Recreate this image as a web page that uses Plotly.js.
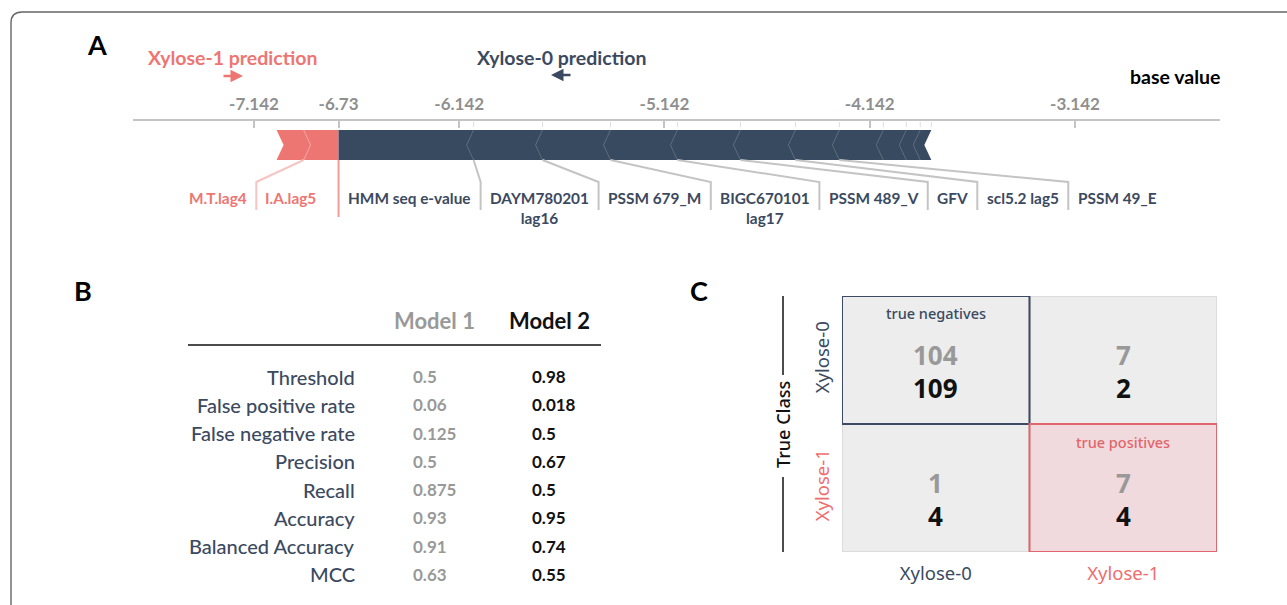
<!DOCTYPE html>
<html><head><meta charset="utf-8">
<script src="https://cdn.plot.ly/plotly-3.0.1.min.js"></script>
<style>html,body{margin:0;padding:0;background:#fff}#chart{width:1287px;height:605px}</style>
</head><body><div id="chart"></div>
<script>
// ================= DATA =================
// Panel A : SHAP force plot
const outputValue = -6.73;
const baseValue = -4.142;
const axisTickVals = [-7.142, -6.73, -6.142, -5.142, -4.142, -3.142];
const axisTickText = ['-7.142', '-6.73', '-6.142', '-5.142', '-4.142', '-3.142'];
// features pushing toward Xylose-1 (red), listed from the output value leftwards
const redFeatures = ['I.A.lag5', 'M.T.lag4'];
const redShap = [0.170, 0.132];
// features pushing toward Xylose-0 (blue), listed from the output value rightwards
const blueFeatures = ['HMM seq e-value', 'DAYM780201<br>lag16', 'PSSM 679_M', 'BIGC670101<br>lag17',
  'PSSM 489_V', 'GFV', 'scl5.2 lag5', 'PSSM 49_E', '', '', ''];
const blueShap = [0.658, 0.336, 0.331, 0.326, 0.307, 0.268, 0.214, 0.214, 0.112, 0.068, 0.054];

// Panel B : metrics table
const metricNames = ['Threshold', 'False positive rate', 'False negative rate', 'Precision',
  'Recall', 'Accuracy', 'Balanced Accuracy', 'MCC'];
const model1Values = ['0.5', '0.06', '0.125', '0.5', '0.875', '0.93', '0.91', '0.63'];
const model2Values = ['0.98', '0.018', '0.5', '0.67', '0.5', '0.95', '0.74', '0.55'];
const modelNames = ['Model 1', 'Model 2'];

// Panel C : confusion matrices (rows = true class, cols = predicted class)
const classes = ['Xylose-0', 'Xylose-1'];
const cmModel1 = [[104, 7], [1, 7]];
const cmModel2 = [[109, 2], [4, 4]];

// ================= STYLE / LAYOUT HELPERS =================
const W = 1287, H = 605;
const NAVY = '#3b4a60', RED = '#ee7672', BAR_BLUE = '#384a5f', GRAY_TXT = '#8f8f8f';
const FA = 'Lato, "Open Sans", sans-serif';
const FC = '"Noto Sans", "Open Sans", sans-serif';
const px = p => p / W, py = p => 1 - p / H;

const AX = {l: 133, r: 1220, lineY: 121, bottom: 240};
const xr = [-7.7315, -2.4355];
const v2p = v => AX.l + (v - xr[0]) / (xr[1] - xr[0]) * (AX.r - AX.l);
const p2v = p => xr[0] + (p - AX.l) / (AX.r - AX.l) * (xr[1] - xr[0]);
const yb = p => -(p - AX.lineY);

const shapes = [], annotations = [];
function ann(x, y, text, font, opts) {
  annotations.push(Object.assign({xref: 'paper', yref: 'paper', x: px(x), y: py(y), text, showarrow: false,
    xanchor: 'center', yanchor: 'middle', borderpad: 0, font}, opts || {}));
}

// ---- border ----
shapes.push({type: 'path', xref: 'paper', yref: 'paper',
  path: `M ${px(11)},${py(700)} L ${px(11)},${py(23)} Q ${px(11)},${py(12)} ${px(22)},${py(12)} L ${px(1400)},${py(12)}`,
  line: {color: '#666', width: 1.4}});

// ---- panel A bars ----
const T = yb(130), B = yb(160), M = (T + B) / 2;
const n = p2v(AX.l + 7) - p2v(AX.l);
// red (pointing right)
let cur = outputValue;
const redBounds = [];
redShap.forEach((s, i) => {
  const b = cur, a = cur - s;
  const tip = i === 0 ? '' : ` L ${b + n},${M}`;
  shapes.push({type: 'path', xref: 'x', yref: 'y', fillcolor: RED, line: {width: 0},
    path: `M ${a},${T} L ${b},${T}${tip} L ${b},${B} L ${a},${B} L ${a + n},${M} Z`});
  if (i > 0) shapes.push({type: 'path', xref: 'x', yref: 'y', line: {color: '#f4a3a0', width: 1},
    path: `M ${b},${T} L ${b + n},${M} L ${b},${B}`});
  redBounds.push(a);
  cur = a;
});
// blue (pointing left)
cur = outputValue;
const blueBounds = [];
blueShap.forEach((s, i) => {
  const a = cur, b = cur + s;
  const tip = i === 0 ? '' : ` L ${a - n},${M}`;
  shapes.push({type: 'path', xref: 'x', yref: 'y', fillcolor: BAR_BLUE, line: {width: 0},
    path: `M ${a},${T} L ${b},${T} L ${b - n},${M} L ${b},${B} L ${a},${B}${tip} Z`});
  if (i > 0) shapes.push({type: 'path', xref: 'x', yref: 'y', line: {color: '#56677b', width: 1},
    path: `M ${a},${T} L ${a - n},${M} L ${a},${B}`});
  shapes.push({type: 'line', xref: 'x', yref: 'y', x0: b, x1: b, y0: yb(122), y1: yb(127),
    line: {color: '#dddddd', width: 1}});
  blueBounds.push(b);
  cur = b;
});

// ---- panel A labels (laid out sequentially from measured text widths) ----
const ctx = document.createElement('canvas').getContext('2d');
const LBL_SIZE = 15.4;
ctx.font = `bold ${LBL_SIZE}px Lato`;
const tw = t => Math.max(...t.split('<br>').map(s => ctx.measureText(s).width));
const LBL_Y = 198;
function label(text, cx, color) {
  ann(cx, LBL_Y - 10, text, {family: FA, size: LBL_SIZE, color, weight: 'bold'}, {yanchor: 'top', align: 'center'});
}
// blue side
let xp = v2p(outputValue) + 10;
blueFeatures.forEach((f, i) => {
  if (!f) return;
  const w = tw(f);
  label(f, xp + w / 2, NAVY);
  const cx = xp + w + 9.5;
  if (i < blueFeatures.length - 1 && blueFeatures[i + 1]) {
    shapes.push({type: 'path', xref: 'x', yref: 'y', line: {color: '#c4c4c4', width: 2},
      path: `M ${blueBounds[i]},${B} L ${p2v(cx)},${yb(182)} L ${p2v(cx)},${yb(210)}`});
  }
  xp = cx + 9.5;
});
// red side
xp = v2p(outputValue) - 20;
redFeatures.forEach((f, i) => {
  const w = tw(f) + 4;
  label(f, xp - w / 2, RED);
  const cx = xp - w - 7;
  if (i < redFeatures.length - 1) {
    shapes.push({type: 'path', xref: 'x', yref: 'y', line: {color: '#f6c5c3', width: 2},
      path: `M ${redBounds[i]},${B} L ${p2v(cx)},${yb(182)} L ${p2v(cx)},${yb(210)}`});
  }
  xp = cx - 7;
});
// output value line
shapes.push({type: 'line', xref: 'x', yref: 'y', x0: outputValue, x1: outputValue, y0: B, y1: yb(217),
  line: {color: '#f29c99', width: 2}});

// ---- panel A header texts ----
ann(97, 45, 'A', {family: FA, size: 27, color: '#000', weight: 'bold'});
ann(232, 58, 'Xylose-1 prediction', {family: FA, size: 19.5, color: RED, weight: 'bold'});
ann(561, 58, 'Xylose-0 prediction', {family: FA, size: 19.5, color: NAVY, weight: 'bold'});
annotations.push({xref: 'paper', yref: 'paper', x: px(243), y: py(76), ax: px(222), ay: py(76), axref: 'paper', ayref: 'paper',
  text: '', showarrow: true, arrowhead: 2, arrowsize: 1, arrowwidth: 2.5, arrowcolor: RED});
annotations.push({xref: 'paper', yref: 'paper', x: px(551), y: py(75), ax: px(572), ay: py(75), axref: 'paper', ayref: 'paper',
  text: '', showarrow: true, arrowhead: 2, arrowsize: 1, arrowwidth: 2.5, arrowcolor: NAVY});
ann(1221, 77, 'base value', {family: FA, size: 19.5, color: '#000', weight: 'bold'}, {xanchor: 'right'});

// ---- panel B table ----
ann(83, 290, 'B', {family: FA, size: 27, color: '#000', weight: 'bold'});
ann(434, 320, modelNames[0], {family: FA, size: 22, color: '#999999', weight: 'bold'});
ann(549, 320, modelNames[1], {family: FA, size: 22, color: '#111', weight: 'bold'});
shapes.push({type: 'line', xref: 'paper', yref: 'paper', x0: px(188), x1: px(601), y0: py(345), y1: py(345),
  line: {color: '#111', width: 1.5}});
metricNames.forEach((m, i) => {
  const y = 376.7 + i * 28.23;
  ann(356, y, m, {family: FA, size: 20, color: NAVY, weight: 500}, {xanchor: 'right'});
  ann(412, y, model1Values[i], {family: FA, size: 17, color: '#999999', weight: 'bold'}, {xanchor: 'left'});
  ann(531, y, model2Values[i], {family: FA, size: 17, color: '#111', weight: 'bold'}, {xanchor: 'left'});
});

// ---- panel C confusion matrix ----
ann(699, 290, 'C', {family: FA, size: 27, color: '#000', weight: 'bold'});
const cellFill = classes.map((r, i) => classes.map((c, j) => (i === 1 && j === 1) ? 1 : 0));
classes.forEach((r, i) => classes.forEach((c, j) => {
  shapes.push({type: 'rect', xref: 'x2', yref: 'y2', x0: j - 0.5, x1: j + 0.5, y0: i - 0.5, y1: i + 0.5,
    line: {color: '#dcdcdc', width: 2}});
  annotations.push({xref: 'x2', yref: 'y2', x: j, y: i, yshift: 5, text: String(cmModel1[i][j]), showarrow: false,
    xanchor: 'center', yanchor: 'middle', font: {family: FC, size: 26, color: '#999999', weight: 'bold'}});
  annotations.push({xref: 'x2', yref: 'y2', x: j, y: i, yshift: -28, text: String(cmModel2[i][j]), showarrow: false,
    xanchor: 'center', yanchor: 'middle', font: {family: FC, size: 26, color: '#111', weight: 'bold'}});
}));
shapes.push({type: 'rect', xref: 'x2', yref: 'y2', x0: -0.5, x1: 0.5, y0: -0.5, y1: 0.5, line: {color: '#3d4a63', width: 2}});
shapes.push({type: 'rect', xref: 'x2', yref: 'y2', x0: 0.5, x1: 1.5, y0: 0.5, y1: 1.5, line: {color: '#e0666b', width: 2}});
annotations.push({xref: 'x2', yref: 'y2', x: 0, y: 0, yshift: 47, text: 'true negatives', showarrow: false,
  xanchor: 'center', yanchor: 'middle', font: {family: FC, size: 14.5, color: NAVY, weight: 500}});
annotations.push({xref: 'x2', yref: 'y2', x: 1, y: 1, yshift: 46, text: 'true positives', showarrow: false,
  xanchor: 'center', yanchor: 'middle', font: {family: FC, size: 14.5, color: '#e0666b', weight: 500}});
// axis titles
ann(783, 425, 'True Class', {family: FC, size: 18, color: '#111', weight: 500}, {textangle: -90});
shapes.push({type: 'line', xref: 'paper', yref: 'paper', x0: px(783), x1: px(783), y0: py(296), y1: py(375), line: {color: '#111', width: 1.5}});
shapes.push({type: 'line', xref: 'paper', yref: 'paper', x0: px(783), x1: px(783), y0: py(477), y1: py(552), line: {color: '#111', width: 1.5}});
ann(1030, 614, 'Predicted Class', {family: FC, size: 18, color: '#111', weight: 500});

const classColors = [NAVY, '#ee6e6e'];
const classTicks = classes.map((c, i) => `<span style="color:${classColors[i]}">${c}</span>`);

const data = [
  {type: 'scatter', x: [outputValue, baseValue], y: [null, null], xaxis: 'x', yaxis: 'y', mode: 'markers',
   showlegend: false, hoverinfo: 'skip'},
  {type: 'heatmap', z: cellFill, x: [0, 1], y: [0, 1], xaxis: 'x2', yaxis: 'y2', showscale: false, hoverinfo: 'skip',
   colorscale: [[0, '#ededed'], [1, '#f1dadd']], zmin: 0, zmax: 1}
];

const layout = {
  width: W, height: H, margin: {l: 0, r: 0, t: 0, b: 0}, paper_bgcolor: '#fff', plot_bgcolor: 'rgba(0,0,0,0)',
  showlegend: false,
  xaxis: {domain: [px(AX.l), px(AX.r)], range: xr, side: 'top', anchor: 'y', showgrid: false, zeroline: false,
    showline: true, linecolor: '#c4c4c4', linewidth: 2, ticks: 'inside', ticklen: 7, tickwidth: 2, tickcolor: '#c4c4c4',
    tickvals: axisTickVals, ticktext: axisTickText, ticklabelstandoff: 2,
    tickfont: {family: FA, size: 17, color: GRAY_TXT, weight: 'bold'}, fixedrange: true},
  yaxis: {domain: [py(AX.bottom), py(AX.lineY)], range: [yb(AX.bottom), 0], visible: false, fixedrange: true},
  xaxis2: {domain: [px(842), px(1217)], range: [-0.5, 1.5], anchor: 'y2', showgrid: false, zeroline: false,
    tickvals: [0, 1], ticktext: classTicks, ticks: '', ticklabelstandoff: 8,
    tickfont: {family: FC, size: 18.5}, fixedrange: true},
  yaxis2: {domain: [py(552), py(296)], range: [1.5, -0.5], anchor: 'x2', showgrid: false, zeroline: false,
    tickvals: [0, 1], ticktext: classTicks, ticks: '', tickangle: -90, ticklabelstandoff: 8,
    tickfont: {family: FC, size: 18.5}, fixedrange: true},
  shapes, annotations
};

Plotly.newPlot('chart', data, layout, {displayModeBar: false, staticPlot: true});
</script>
</body></html>
